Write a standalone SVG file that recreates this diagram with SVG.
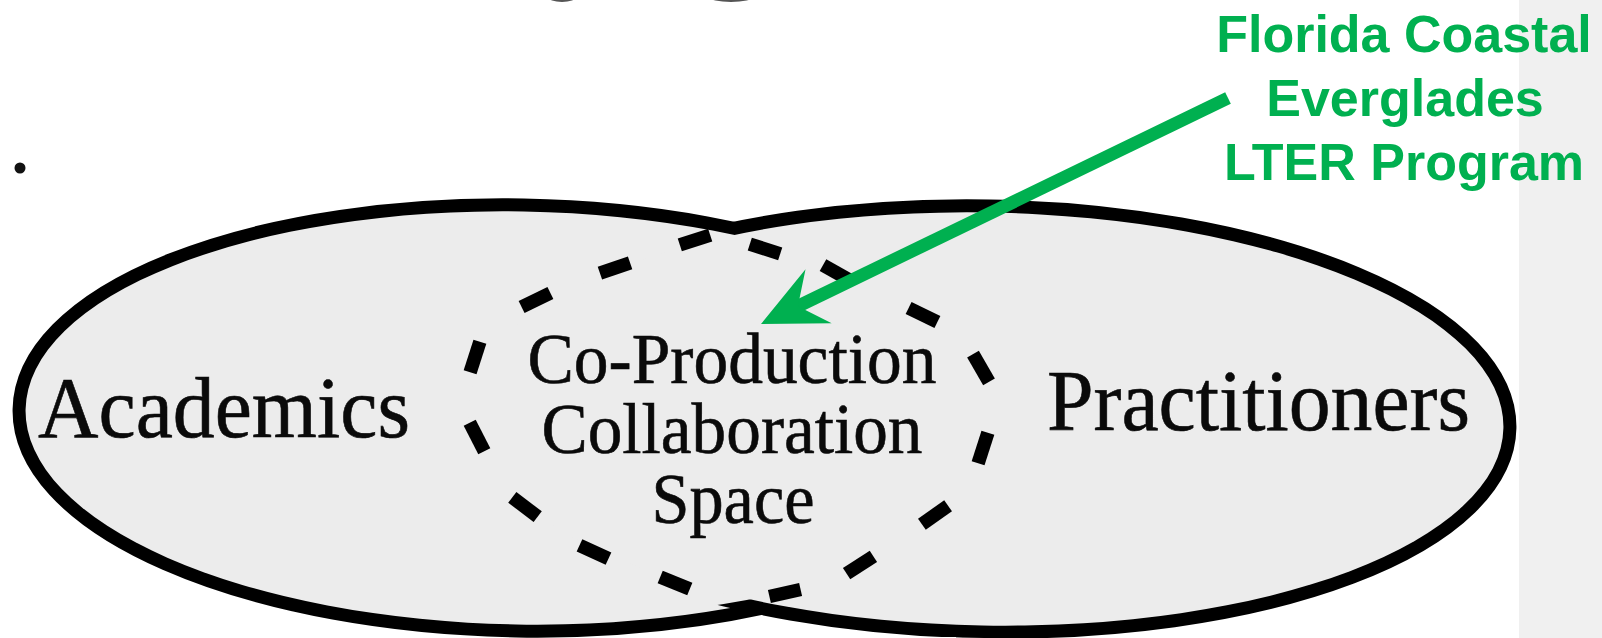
<svg xmlns="http://www.w3.org/2000/svg" width="1602" height="638" viewBox="0 0 1602 638">
<style>
.outline{fill:none;stroke:#000;stroke-width:26}
.fill{fill:#ececec;stroke:none}
.serif{font-family:"Liberation Serif","Times New Roman",serif;fill:#0a0a0a;stroke:#0a0a0a;stroke-width:0.6}
.big{font-size:86px}
.mid{font-size:71px;text-anchor:middle}
.green{font-family:"Liberation Sans",Arial,sans-serif;font-weight:bold;font-size:52px;fill:#00b050;text-anchor:middle}
.dash{fill:none;stroke:#000;stroke-width:13.5;stroke-linecap:butt}
.conn{stroke:#00b050;stroke-width:13;fill:none}
.frag{fill:#555}
</style>
<defs>
<mask id="outsideA" maskUnits="userSpaceOnUse" x="0" y="0" width="1602" height="638">
<rect width="1602" height="638" fill="#fff"/>
<ellipse cx="520" cy="418" rx="494.5" ry="206.5" transform="rotate(1 520 418)" fill="#000"/>
</mask>
<marker id="head" markerUnits="userSpaceOnUse" orient="auto" viewBox="-40 -35 80 70" markerWidth="80" markerHeight="70" refX="0" refY="0">
<path d="M31,0 L-33,-30 L-10,0 L-33,30 Z" fill="#00b050"/>
</marker>
</defs>
<rect width="1602" height="638" fill="#fff"/>
<rect x="1519" y="0" width="83" height="638" fill="#f0f0f0"/>
<g id="fragments">
<ellipse class="frag" cx="562" cy="-3" rx="14" ry="5"/>
<ellipse class="frag" cx="731" cy="-3" rx="22" ry="5"/>
<circle cx="20" cy="168" r="5.5" fill="#111"/>
</g>
<g id="academics">
<ellipse class="outline" cx="520" cy="418" rx="494.5" ry="206.5" transform="rotate(1 520 418)"/>
<ellipse class="fill" cx="520" cy="418" rx="494.5" ry="206.5" transform="rotate(1 520 418)"/>
<text class="serif big" x="38" y="437" textLength="372" lengthAdjust="spacingAndGlyphs">Academics</text>
</g>
<g id="practitioners">
<ellipse class="outline" cx="986" cy="419" rx="517.5" ry="206.5" transform="rotate(1 986 419)" mask="url(#outsideA)"/>
<ellipse class="fill" cx="986" cy="419" rx="517.5" ry="206.5" transform="rotate(1 986 419)"/>
<text class="serif big" x="1047" y="430" textLength="423" lengthAdjust="spacingAndGlyphs">Practitioners</text>
</g>
<g id="coproduction">
<g id="coproduction-boundary">
<line class="dash" x1="599.9" y1="273.2" x2="630.1" y2="262.8"/>
<line class="dash" x1="679.8" y1="244.9" x2="710.2" y2="235.1"/>
<line class="dash" x1="749.8" y1="244.1" x2="780.2" y2="253.9"/>
<line class="dash" x1="823" y1="265.2" x2="851" y2="280.8"/>
<line class="dash" x1="908.6" y1="308" x2="937.4" y2="322"/>
<line class="dash" x1="973" y1="354.1" x2="989" y2="381.9"/>
<line class="dash" x1="978.1" y1="463.2" x2="987.9" y2="432.8"/>
<line class="dash" x1="921.9" y1="524.2" x2="948.1" y2="505.8"/>
<line class="dash" x1="846.6" y1="573.7" x2="873.4" y2="556.3"/>
<line class="dash" x1="769.4" y1="596.5" x2="800.6" y2="589.5"/>
<line class="dash" x1="660.2" y1="576.9" x2="689.8" y2="589.1"/>
<line class="dash" x1="579.5" y1="545.3" x2="608.5" y2="558.7"/>
<line class="dash" x1="512.3" y1="497.3" x2="537.7" y2="516.7"/>
<line class="dash" x1="469.7" y1="422.7" x2="484.3" y2="451.3"/>
<line class="dash" x1="470.1" y1="372.2" x2="479.9" y2="341.8"/>
<line class="dash" x1="521.6" y1="307" x2="550.4" y2="293"/>
</g>
<text class="serif mid" x="732" y="383" textLength="409" lengthAdjust="spacingAndGlyphs">Co-Production</text>
<text class="serif mid" x="732" y="453" textLength="381" lengthAdjust="spacingAndGlyphs">Collaboration</text>
<text class="serif mid" x="733" y="523" textLength="163" lengthAdjust="spacingAndGlyphs">Space</text>
</g>
<g id="lter">
<text class="green" x="1404" y="52">Florida Coastal</text>
<text class="green" x="1405" y="116">Everglades</text>
<text class="green" x="1404" y="180">LTER Program</text>
</g>
<g id="connectors">
<line class="conn" x1="1228" y1="98" x2="788.9" y2="310.6" marker-end="url(#head)"/>
</g>
</svg>
